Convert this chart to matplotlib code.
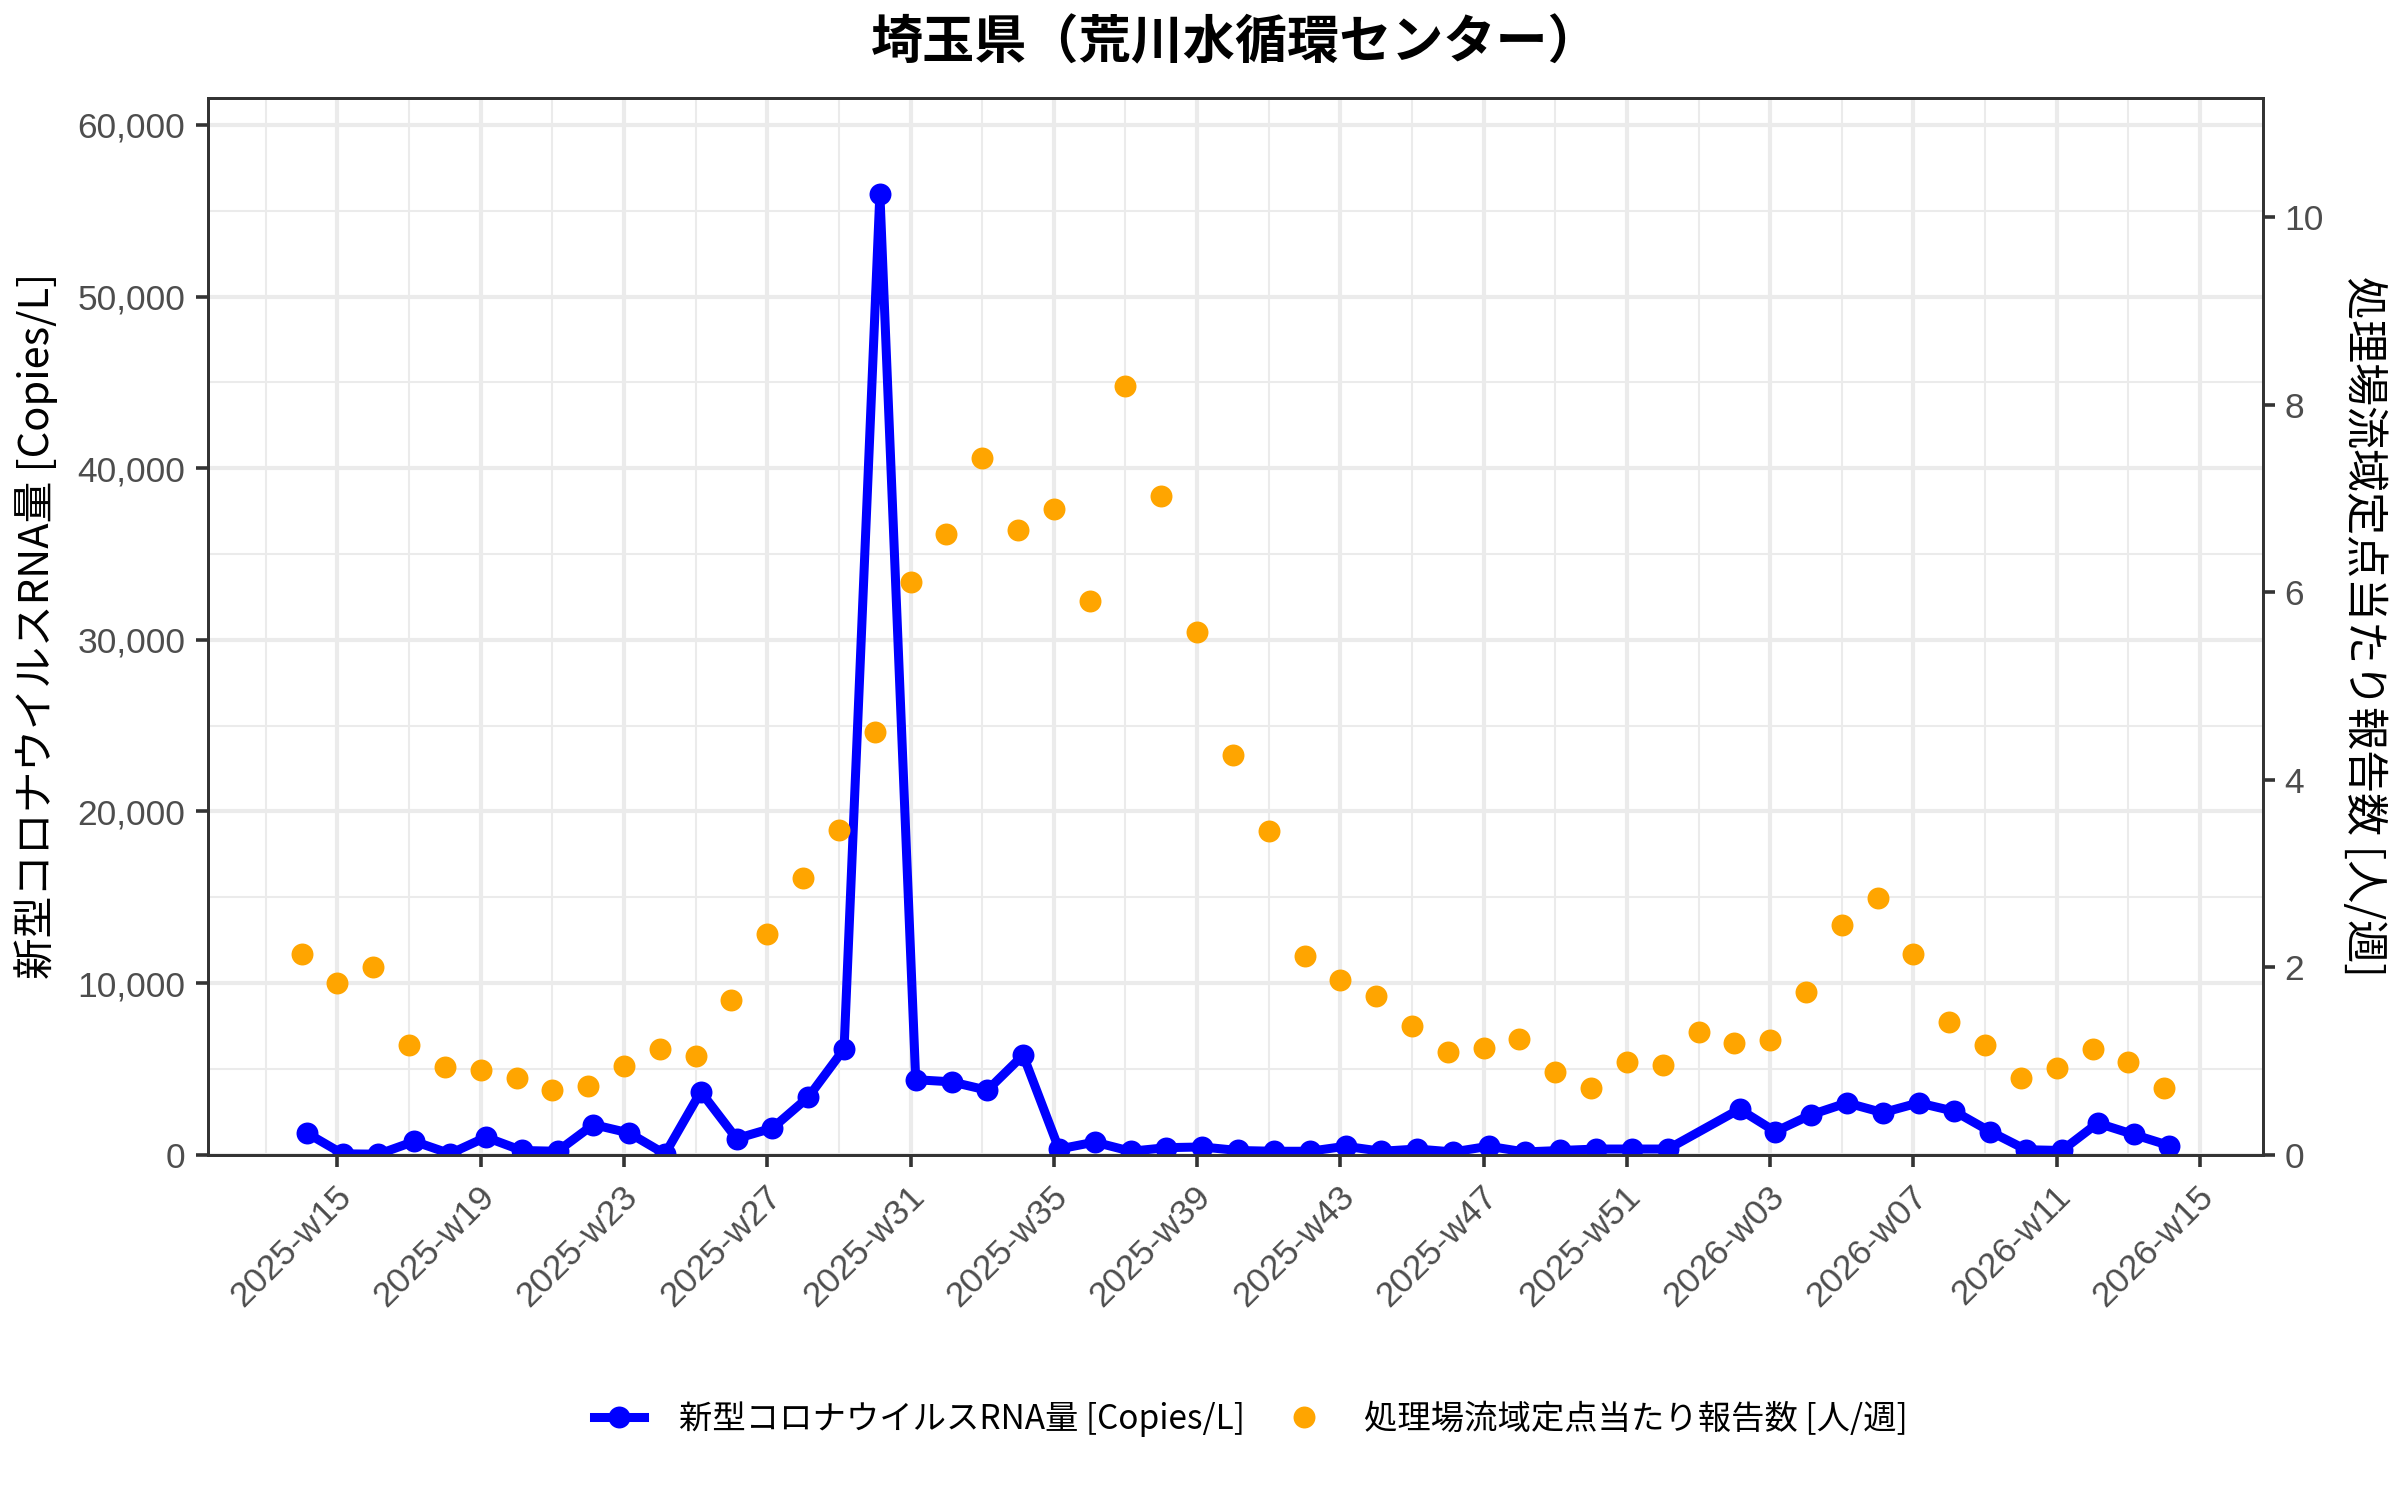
import numpy as np
import matplotlib
matplotlib.use("Agg")
import matplotlib.pyplot as plt
import matplotlib.transforms as mtransforms
from matplotlib.ticker import FuncFormatter, MultipleLocator, FixedLocator

# ---------------- data ----------------
weeks = ["2025-w14", "2025-w15", "2025-w16", "2025-w17", "2025-w18", "2025-w19",
         "2025-w20", "2025-w21", "2025-w22", "2025-w23", "2025-w24", "2025-w25",
         "2025-w26", "2025-w27", "2025-w28", "2025-w29", "2025-w30", "2025-w31",
         "2025-w32", "2025-w33", "2025-w34", "2025-w35", "2025-w36", "2025-w37",
         "2025-w38", "2025-w39", "2025-w40", "2025-w41", "2025-w42", "2025-w43",
         "2025-w44", "2025-w45", "2025-w46", "2025-w47", "2025-w48", "2025-w49",
         "2025-w50", "2025-w51", "2025-w52", "2026-w01", "2026-w02", "2026-w03",
         "2026-w04", "2026-w05", "2026-w06", "2026-w07", "2026-w08", "2026-w09",
         "2026-w10", "2026-w11", "2026-w12", "2026-w13", "2026-w14"]

rna = [1265, 50, 30, 775, 60, 1020, 245, 200, 1755, 1265, 40, 3670,
       940, 1550, 3350, 6160, 56000, 4370, 4245, 3755, 5800, 330, 735, 200,
       410, 450, 245, 200, 200, 490, 200, 330, 160, 490, 160, 245,
       330, 330, 330, np.nan, 2650, 1350, 2330, 3020, 2450, 3020, 2530, 1350,
       290, 245, 1840, 1180, 530]

reports = [2.14, 1.83, 2.00, 1.17, 0.94, 0.905, 0.815, 0.69, 0.73, 0.95, 1.13, 1.05,
           1.65, 2.35, 2.95, 3.46, 4.51, 6.11, 6.62, 7.43, 6.66, 6.89, 5.91, 8.20,
           7.02, 5.57, 4.26, 3.45, 2.12, 1.86, 1.69, 1.37, 1.09, 1.14, 1.23, 0.88,
           0.71, 0.99, 0.96, 1.31, 1.19, 1.22, 1.73, 2.45, 2.74, 2.14, 1.41, 1.17,
           0.815, 0.92, 1.13, 0.99, 0.71]

tick_weeks = ["2025-w15", "2025-w19", "2025-w23", "2025-w27", "2025-w31", "2025-w35",
              "2025-w39", "2025-w43", "2025-w47", "2025-w51", "2026-w03", "2026-w07",
              "2026-w11", "2026-w15"]

title = "埼玉県（荒川水循環センター）"
label_rna = "新型コロナウイルスRNA量 [Copies/L]"
label_rep = "処理場流域定点当たり報告数 [人/週]"

# ---------------- styling ----------------
CJK = ["Noto Sans CJK JP", "DejaVu Sans"]
LAT = ["Liberation Sans", "DejaVu Sans"]
BLUE = "#0000FF"
ORANGE = "#FFA500"
GRID = "#EBEBEB"
DARK = "#333333"
TXT = "#4D4D4D"
TICK_FS = 25.5

W, H = 2400, 1500
fig = plt.figure(figsize=(W / 100, H / 100), dpi=100)
pl, pr, pt, pb = 208.3, 2262.7, 97.5, 1154.7
ax = fig.add_axes([pl / W, 1 - pb / H, (pr - pl) / W, (pb - pt) / H])
ax2 = ax.twinx()

x_rep = np.arange(len(weeks), dtype=float)
sample_offset = 1.0 / 7.0  # samples taken one day after the week start
rna_arr = np.array(rna, dtype=float)
mask = ~np.isnan(rna_arr)
x_rna = x_rep[mask] + sample_offset
y_rna = rna_arr[mask]

week_pos = {w: i for i, w in enumerate(weeks)}
# tick positions (week index); 2026-w15 is one past the last data week
tick_pos = [week_pos[w] if w in week_pos else len(weeks) for w in tick_weeks]

ymax_left = max(y_rna) * 1.1
coef = 0.8 * max(y_rna) / max(reports)
ymax_right = ymax_left / coef

rng = x_rna.max() - x_rep.min()
ax.set_xlim(x_rep.min() - 0.05 * rng, x_rna.max() + 0.05 * rng)
ax.set_ylim(0, ymax_left)
ax2.set_ylim(0, ymax_right)

# grid
ax.set_axisbelow(True)
ax.xaxis.set_major_locator(FixedLocator(tick_pos))
minor_x = [p - 2 for p in tick_pos] + [tick_pos[-1] + 2]
ax.xaxis.set_minor_locator(FixedLocator(minor_x))
ax.yaxis.set_major_locator(MultipleLocator(10000))
ax.yaxis.set_minor_locator(MultipleLocator(5000))
ax.grid(which="major", color=GRID, lw=3.0)
ax.grid(which="minor", color=GRID, lw=1.5)

# data
line_rna, = ax.plot(x_rna, y_rna, color=BLUE, lw=6.5, marker="o", ms=15.8,
                    markeredgewidth=0, solid_joinstyle="round", zorder=3,
                    label=label_rna)
pts_rep, = ax2.plot(x_rep, reports, linestyle="none", marker="o", ms=15.8,
                    markeredgewidth=0, color=ORANGE, zorder=3, label=label_rep)

# ticks
ax.set_xticks(tick_pos)
ax.set_xticklabels(tick_weeks)
ax.yaxis.set_major_formatter(FuncFormatter(lambda v, p: f"{int(v):,}"))
ax2.yaxis.set_major_locator(MultipleLocator(2))

for a in (ax, ax2):
    for s in a.spines.values():
        s.set_color(DARK)
        s.set_linewidth(2.0)
ax.tick_params(axis="both", which="minor", length=0)
ax.tick_params(axis="y", which="major", length=8.6, width=2.6, color=DARK,
               labelsize=TICK_FS, labelcolor=TXT, pad=8)
ax.tick_params(axis="x", which="major", length=8.6, width=2.6, color=DARK,
               labelsize=TICK_FS, labelcolor=TXT, pad=9.4)
ax2.tick_params(axis="y", which="major", length=8.6, width=2.6, color=DARK,
                labelsize=TICK_FS, labelcolor=TXT, pad=7)
ax2.tick_params(axis="y", which="minor", length=0)

offset = mtransforms.ScaledTranslation(-0.03, 0, fig.dpi_scale_trans)
for lab in ax.get_xticklabels():
    lab.set_family(LAT)
    lab.set_fontsize(TICK_FS)
    lab.set_rotation(45)
    lab.set_ha("right")
    lab.set_va("top")
    lab.set_rotation_mode("anchor")
    lab.set_transform(lab.get_transform() + offset)
for lab in ax.get_yticklabels() + ax2.get_yticklabels():
    lab.set_family(LAT)
    lab.set_fontsize(TICK_FS)

# texts
cx = ((pl + pr) / 2) / W
cy = 1 - ((pt + pb) / 2) / H
fig.text(36 / W, cy, label_rna, rotation=90, ha="center", va="center",
         fontsize=30, family=CJK, color="black")
fig.text(2363 / W, cy, label_rep, rotation=270, ha="center", va="center",
         fontsize=31, family=CJK, color="black")
fig.text(cx, 1 - 43 / H, title, ha="center", va="center",
         fontsize=37.5, fontweight="bold", family=CJK, color="black")

leg = fig.legend(handles=[line_rna, pts_rep], loc="center",
                 bbox_to_anchor=(1251 / W, 1 - 1419 / H), ncol=2, frameon=False,
                 prop={"family": CJK, "size": 24}, handlelength=1.5,
                 handletextpad=1.05, columnspacing=1.0, borderpad=0)

fig.savefig("out.png", dpi=100, facecolor="white")
